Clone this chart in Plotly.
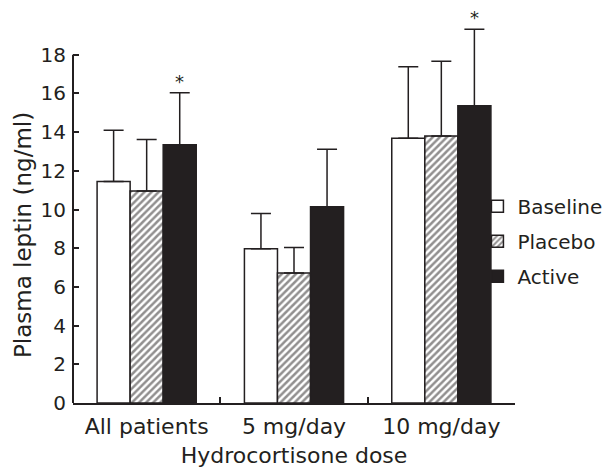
import plotly.graph_objects as go

categories = ["All patients", "5 mg/day", "10 mg/day"]
baseline = [11.45, 7.97, 13.68]
baseline_upper = [14.09, 9.79, 17.38]
placebo = [10.95, 6.72, 13.8]
placebo_upper = [13.62, 8.03, 17.66]
active = [13.35, 10.14, 15.36]
active_upper = [16.04, 13.12, 19.31]
significant = [True, False, True]

INK = "#231f20"
FONT = "DejaVu Sans, Liberation Sans, Arial, sans-serif"

def err(vals, upper):
    return dict(type="data", symmetric=False,
                array=[u - v for u, v in zip(upper, vals)],
                arrayminus=[0] * len(vals),
                color=INK, thickness=1.5, width=10)

fig = go.Figure()
fig.add_trace(go.Bar(
    x=categories, y=baseline, name="Baseline", legendgroup="a",
    marker=dict(color="white", line=dict(color=INK, width=1.5)),
    error_y=err(baseline, baseline_upper)))
fig.add_trace(go.Bar(
    x=categories, y=placebo, name="Placebo", legendgroup="b",
    marker=dict(color="white", line=dict(color=INK, width=1.5),
                pattern=dict(shape="/", fgcolor=INK, bgcolor="white",
                             size=5, solidity=0.5)),
    error_y=err(placebo, placebo_upper)))
fig.add_trace(go.Bar(
    x=categories, y=active, name="Active", legendgroup="c",
    marker=dict(color=INK, line=dict(color=INK, width=1.5)),
    error_y=err(active, active_upper)))

for c, up, s in zip(categories, active_upper, significant):
    if s:
        fig.add_annotation(x=c, y=up, text="*", showarrow=False,
                           xshift=33, yanchor="bottom", yshift=-1,
                           font=dict(size=18, color=INK, family=FONT))

# y axis title (centred a little below the plot middle, as in the reference)
fig.add_annotation(text="Plasma leptin (ng/ml)", textangle=-90, showarrow=False,
                   xref="paper", yref="paper", x=-0.113, y=0.434,
                   xanchor="center", yanchor="middle",
                   font=dict(size=23, color=INK, family=FONT))

# y axis line only up to 18
fig.add_shape(type="line", xref="paper", yref="y", x0=0, x1=0, y0=0, y1=18,
              line=dict(color=INK, width=2))

# the page body adds an 8px offset; the figure is sized to fill the rest
fig.update_layout(
    width=608, height=460,
    margin=dict(l=65, r=101, t=8, b=65, autoexpand=False),
    paper_bgcolor="white", plot_bgcolor="white",
    barmode="group", bargap=0.327, bargroupgap=0,
    font=dict(family=FONT, size=20, color=INK),
    showlegend=True,
    legend=dict(x=0.915, xanchor="left", y=0.418, yanchor="middle",
                font=dict(size=20, color=INK, family=FONT), tracegroupgap=6,
                itemwidth=30, bgcolor="rgba(0,0,0,0)"),
    xaxis=dict(range=[-0.5, 2.5], showline=True, linecolor=INK, linewidth=2,
               ticks="inside", tickson="boundaries", ticklen=6, tickwidth=1.5,
               tickcolor=INK, showgrid=False, zeroline=False, automargin=False,
               ticklabelstandoff=3, tickangle=0,
               tickfont=dict(size=22, color=INK, family=FONT),
               title=dict(text="Hydrocortisone dose", font=dict(size=22, color=INK, family=FONT), standoff=15)),
    yaxis=dict(range=[0, 20], tickvals=list(range(0, 19, 2)), showline=False,
               ticks="inside", ticklen=6, tickwidth=1.5, tickcolor=INK,
               showgrid=False, zeroline=False, automargin=False,
               ticklabelstandoff=6,
               tickfont=dict(size=20, color=INK, family=FONT)),
)

fig.write_html("out.html")
